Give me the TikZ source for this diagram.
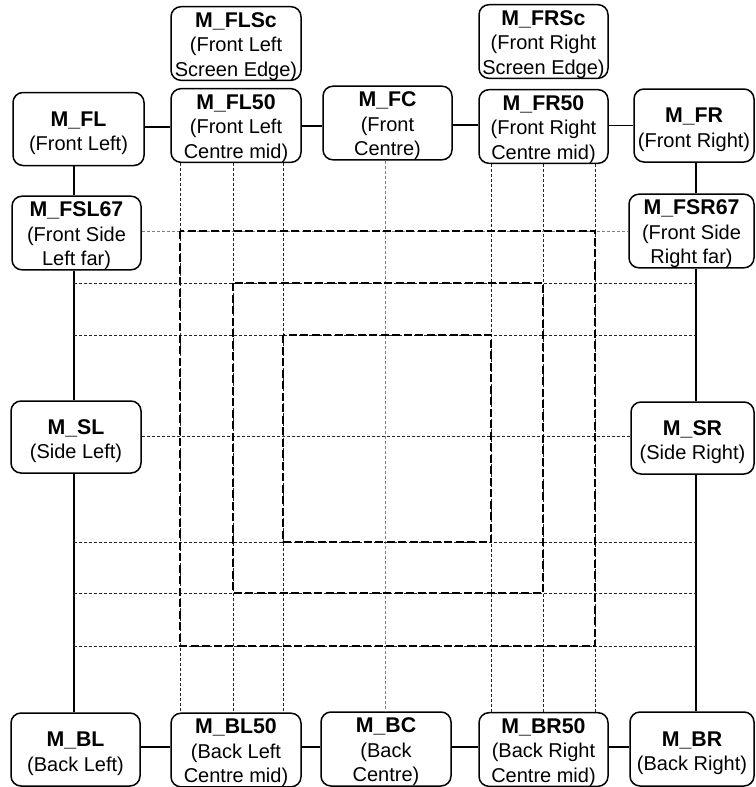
\documentclass[tikz,border=0pt]{standalone}
\usepackage{fontspec}
\setmainfont{Liberation Sans}
% title line; #1 = strut height that sets the text a little below the box centre
\newcommand\boxtitle[2][20.5pt]{\rule{0pt}{#1}{\fontsize{21.3}{24.5}\selectfont\bfseries #2}}
\begin{document}
\begin{tikzpicture}[x=1pt,y=-1pt,
  box/.style={draw, line width=1.5pt, rounded corners=10pt, fill=white,
    minimum width=130pt, minimum height=73pt, inner sep=0pt, align=center,
    font=\fontsize{20}{24.5}\selectfont},
  link/.style={line width=1.5pt},
  gridline/.style={line width=0.8pt, dash pattern=on 3pt off 2pt, black!85},
  gridlight/.style={line width=0.8pt, dash pattern=on 3pt off 2pt, black!50},
  zone/.style={line width=1.5pt, dash pattern=on 8pt off 3.5pt, black}]
\useasboundingbox (0,0) rectangle (755,787);

% guide coordinates of the two side columns
\coordinate (Lcol) at (74,0);
\coordinate (Rcol) at (696,0);

% nodes
\node[box] (FLSc) at (236,43.5) {\boxtitle{M\_FLSc}\\(Front Left\\Screen Edge)};
\node[box, minimum width=131pt] (FL) at (78.5,129) {\boxtitle[23pt]{M\_FL}\\(Front Left)};
\node[box] (FL50) at (236,125.5) {\boxtitle{M\_FL50}\\(Front Left\\Centre mid)};
\node[box, minimum width=129pt, minimum height=72pt] (FC) at (387.5,123) {\boxtitle{M\_FC}\\(Front\\Centre)};
\node[box, minimum width=129pt, minimum height=71pt] (FRSc) at (543.5,41.5) {\boxtitle{M\_FRSc}\\(Front Right\\Screen Edge)};
\node[box, minimum width=129pt] (FR50) at (543.5,126.5) {\boxtitle{M\_FR50}\\(Front Right\\Centre mid)};
\node[box, minimum width=120pt] (FR) at (694,125.5) {\boxtitle[23pt]{M\_FR}\\(Front Right)};
\node[box, minimum width=129pt, minimum height=72pt] (FSL67) at (76.5,233) {\boxtitle{M\_FSL67}\\(Front Side\\Left far)};
\node[box, minimum width=125pt, minimum height=72pt] (FSR67) at (691.5,231) {\boxtitle{M\_FSR67}\\(Front Side\\Right far)};
\node[box, minimum height=72pt] (SL) at (76,437) {\boxtitle[23pt]{M\_SL}\\(Side Left)};
\node[box, minimum width=123pt, minimum height=72pt] (SR) at (692.5,438) {\boxtitle[23pt]{M\_SR}\\(Side Right)};
\node[box, minimum width=129pt] (BL) at (75.5,749.5) {\boxtitle[23pt]{M\_BL}\\(Back Left)};
\node[box, minimum height=72pt] (BL50) at (236,750) {\boxtitle{M\_BL50}\\(Back Left\\Centre mid)};
\node[box, minimum height=74pt] (BC) at (386,749) {\boxtitle{M\_BC}\\(Back\\Centre)};
\node[box, minimum width=129pt] (BR50) at (543.5,749.5) {\boxtitle{M\_BR50}\\(Back Right\\Centre mid)};
\node[box, minimum width=124pt, minimum height=74pt] (BR) at (692,749) {\boxtitle[23pt]{M\_BR}\\(Back Right)};

% solid connectors: top row
\draw[link] (FL.east |- 0,127) -- (FL50.west |- 0,127);
\draw[link] (FL50.east |- 0,126) -- (FC.west |- 0,126);
\draw[link] (FC.east |- 0,125) -- (FR50.west |- 0,125);
\draw[link] (FR50.east |- 0,125.5) -- (FR.west |- 0,125.5);
% side columns
\draw[link] (FL.south -| Lcol) -- (FSL67.north -| Lcol);
\draw[link] (FSL67.south -| Lcol) -- (SL.north -| Lcol);
\draw[link] (SL.south -| Lcol) -- (BL.north -| Lcol);
\draw[link] (FR.south -| Rcol) -- (FSR67.north -| Rcol);
\draw[link] (FSR67.south -| Rcol) -- (SR.north -| Rcol);
\draw[link] (SR.south -| Rcol) -- (BR.north -| Rcol);
% bottom row
\draw[link] (BL.east |- 0,747) -- (BL50.west |- 0,747);
\draw[link] (BL50.east |- 0,747) -- (BC.west |- 0,747);
\draw[link] (BC.east |- 0,747) -- (BR50.west |- 0,747);
\draw[link] (BR50.east |- 0,747) -- (BR.west |- 0,747);

% fine grid: verticals
\foreach \gx in {180,233,283}
  \draw[gridline] (\gx,0 |- FL50.south) -- (\gx,0 |- BL50.north);
\draw[gridlight] (385,0 |- FC.south) -- (385,0 |- BC.north);
\foreach \gx in {491,543,595}
  \draw[gridline] (\gx,0 |- FR50.south) -- (\gx,0 |- BR50.north);

% fine grid: horizontals
\draw[gridlight] (FSL67.east |- 0,231) -- (FSR67.west |- 0,231);
\foreach \gy in {283,335,542,593,646}
  \draw[gridline] (Lcol |- 0,\gy) -- (Rcol |- 0,\gy);
\draw[gridline] (SL.east |- 0,436) -- (SR.west |- 0,436);

% zones
\draw[zone] (180,231) rectangle (595,646);
\draw[zone] (233,283) rectangle (543,593);
\draw[zone] (283,335) rectangle (491,542);
\end{tikzpicture}
\end{document}
